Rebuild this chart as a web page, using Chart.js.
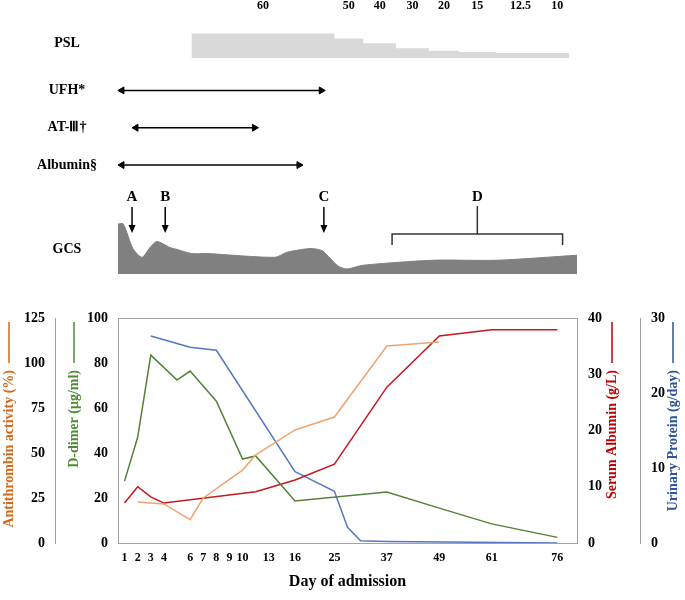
<!DOCTYPE html>
<html>
<head>
<meta charset="utf-8">
<script src="https://cdn.jsdelivr.net/npm/chart.js@4.4.1/dist/chart.umd.min.js"></script>
<style>
  body { margin: 0; background: #fff; }
  #wrap { position: relative; width: 685px; height: 600px; }
  #top, #bottom { position: absolute; left: 0; }
  #top { top: 0; }
  #bottom { top: 290px; }
</style>
</head>
<body>
<div id="wrap">
  <canvas id="top" width="685" height="290"></canvas>
  <canvas id="bottom" width="685" height="310"></canvas>
</div>
<script>
// both panels share the same x: slots of the day axis (category index 0..34)
const dayLabels = ['1','2','3','4','','6','7','8','9','10','','13','','16','','','25','','','','37','','','','49','','','','61','','','','','76',''];

const antithrombin = [null, 22.8, null, 21.7, null, 13, 25, null, null, 40.5, 49, null, null, 62.8, null, null, 70, null, null, null, 109.4, null, null, null, 111.7, null, null, null, null, null, null, null, null, null, null];
const dDimer = [27.5, 47, 83.5, null, 72.4, 76.4, null, 63, null, 37.3, 38.7, null, null, 18.7, null, null, null, null, null, null, 22.7, null, null, null, 15.5, null, null, null, 8.5, null, null, null, null, 2.5, null];
const albumin = [7.1, 10, 8.2, 7.1, null, null, null, null, null, null, 9.1, null, null, 11.2, null, null, 14, null, null, null, 27.7, null, null, null, 36.8, null, null, null, 37.9, null, null, null, null, 37.9, null];
const urinary = [null, null, 27.6, null, null, 26.1, null, 25.7, null, null, null, null, null, 9.5, null, null, 6.9, 2.1, 0.3, null, 0.2, null, null, null, null, null, null, null, null, null, null, null, null, 0, null];

// top panel
const pslStart = [5.1, 16, 18.2, 20.7, 23.2, 25.5, 28.3, 32.1];
const pslEnd = 33.9;
const pslDose = [60, 50, 40, 30, 20, 15, 12.5, 10];

// arrow ends = centre of the arrowheads
const treatments = ['UFH*', 'AT-Ⅲ†', 'Albumin§'];
const treatStart = [-0.2, 0.87, -0.2];
const treatEnd = [15.0, 9.9, 13.3];

const gcsPos = [-0.5, -0.1, 0.64, 1.33, 1.94, 2.47, 3.47, 4.0, 5.14, 6.29, 11.47, 12.39, 14.14, 15.06, 15.67, 16.28, 16.96, 18.18, 23.52, 28.4, 34.5];
const gcsLevel = [15, 15, 9.1, 7.0, 9.35, 10.8, 9.35, 8.9, 7.9, 7.9, 7.0, 8.2, 9.1, 8.6, 6.8, 4.9, 4.2, 5.1, 6.3, 6.3, 7.5];

const markerLabels = ['A', 'B', 'C'];
const markerPos = [0.57, 3.1, 15.2];
const bracketLabel = 'D';
const bracketFrom = 20.4;
const bracketTo = 33.4;

const serif = '"Liberation Serif", "Times New Roman", serif';
const bold = size => ({ family: serif, size: size, weight: 'bold' });

const pslPoints = pslStart.map((x, i) => ({ x: x, y: pslDose[i] }));
pslPoints.push({ x: pslEnd, y: pslDose[pslDose.length - 1] });
const gcsPoints = gcsPos.map((x, i) => ({ x: x, y: gcsLevel[i] }));

const arrowSets = treatments.map((name, i) => ({
  label: name,
  data: [{ x: treatStart[i], y: i }, { x: treatEnd[i], y: i }],
  yAxisID: 'yRow',
  borderColor: '#000',
  borderWidth: 1.5,
  pointStyle: 'triangle',
  pointRadius: 4,
  pointRotation: c => c.dataIndex === 0 ? -90 : 90,
  pointBackgroundColor: '#000',
  pointBorderColor: '#000',
  pointBorderWidth: 1,
  clip: false
}));

function arrowDown(ctx, x, y1, y2) {
  ctx.beginPath();
  ctx.moveTo(x, y1);
  ctx.lineTo(x, y2 - 7);
  ctx.stroke();
  ctx.beginPath();
  ctx.moveTo(x - 3.5, y2 - 8);
  ctx.lineTo(x + 3.5, y2 - 8);
  ctx.lineTo(x, y2);
  ctx.closePath();
  ctx.fill();
}

const topLabels = {
  id: 'topLabels',
  afterDatasetsDraw(chart) {
    const { ctx, chartArea, scales } = chart;
    const x = scales.x;
    ctx.save();
    ctx.fillStyle = '#000';
    ctx.strokeStyle = '#000';
    ctx.textAlign = 'center';
    ctx.textBaseline = 'middle';

    ctx.font = 'bold 14px ' + serif;
    ctx.fillText('PSL', 67, scales.yPsl.getPixelForValue(30));
    treatments.forEach((t, i) => ctx.fillText(t, 67, scales.yRow.getPixelForValue(i)));
    ctx.fillText('GCS', 67, (scales.yGcs.getPixelForValue(15) + chartArea.bottom) / 2);

    ctx.font = 'bold 12px ' + serif;
    pslDose.forEach((d, i) => {
      const end = i < pslStart.length - 1 ? pslStart[i + 1] : pslEnd;
      ctx.fillText(String(d), x.getPixelForValue((pslStart[i] + end) / 2), 6);
    });

    ctx.font = 'bold 15px ' + serif;
    ctx.lineWidth = 1.5;
    markerLabels.forEach((m, i) => {
      const px = x.getPixelForValue(markerPos[i]);
      ctx.fillText(m, px, 197);
      arrowDown(ctx, px, 207, 233);
    });

    const bx = x.getPixelForValue((bracketFrom + bracketTo) / 2);
    const b1 = x.getPixelForValue(bracketFrom);
    const b2 = x.getPixelForValue(bracketTo);
    ctx.fillText(bracketLabel, bx, 197);
    ctx.strokeStyle = '#333';
    ctx.beginPath();
    ctx.moveTo(bx, 206);
    ctx.lineTo(bx, 234);
    ctx.moveTo(b1, 245);
    ctx.lineTo(b1, 234);
    ctx.lineTo(b2, 234);
    ctx.lineTo(b2, 245);
    ctx.stroke();
    ctx.restore();
  }
};

new Chart(document.getElementById('top'), {
  type: 'line',
  data: {
    datasets: [
      { label: 'PSL', data: pslPoints, yAxisID: 'yPsl', stepped: 'after', fill: 'origin',
        backgroundColor: '#d9d9d9', borderColor: '#d9d9d9', borderWidth: 0, pointRadius: 0 },
      { label: 'GCS', data: gcsPoints, yAxisID: 'yGcs', fill: 'start', tension: 0.25,
        backgroundColor: '#808080', borderColor: '#808080', borderWidth: 1, pointRadius: 0 }
    ].concat(arrowSets)
  },
  options: {
    responsive: false,
    animation: false,
    events: [],
    layout: { padding: { left: 118, right: 108, top: 0, bottom: 16 } },
    plugins: { legend: { display: false }, tooltip: { enabled: false } },
    scales: {
      x: { type: 'linear', display: false, min: -0.5, max: 34.5 },
      yPsl: { display: false, min: -440, max: 108 },
      yGcs: { display: false, min: 3, max: 67.5 },
      yRow: { display: false, reverse: true, min: -2.29, max: 4.92 }
    }
  },
  plugins: [topLabels]
});

// bottom panel
const frameGray = '#a3a3a3';
const axisTitles = [
  { id: 'yAt', text: 'Antithrombin activity (%)', color: '#d2691c', dx: 9 },
  { id: 'yDd', text: 'D-dimer (μg/ml)', color: '#4f8a37', dx: 19 },
  { id: 'yAlb', text: 'Serum Albumin (g/L)', color: '#c00000', dx: 35 },
  { id: 'yUp', text: 'Urinary Protein (g/day)', color: '#2f5597', dx: 33 }
];

const frameAndTitles = {
  id: 'frameAndTitles',
  afterDraw(chart) {
    const { ctx, chartArea, scales } = chart;
    ctx.save();
    ctx.strokeStyle = frameGray;
    ctx.lineWidth = 1;
    ctx.beginPath();
    ctx.moveTo(chartArea.left, chartArea.top + 0.5);
    ctx.lineTo(chartArea.right, chartArea.top + 0.5);
    ctx.stroke();

    ctx.font = 'bold 14px ' + serif;
    ctx.textAlign = 'right';
    ctx.textBaseline = 'middle';
    axisTitles.forEach(t => {
      const s = scales[t.id];
      ctx.save();
      ctx.translate(s.left + t.dx, chartArea.top);
      ctx.rotate(-Math.PI / 2);
      ctx.fillStyle = t.color;
      ctx.strokeStyle = t.color;
      ctx.lineWidth = 1.5;
      ctx.beginPath();
      ctx.moveTo(-4, 0);
      ctx.lineTo(-45, 0);
      ctx.stroke();
      ctx.fillText(t.text, -52, 0);
      ctx.restore();
    });
    ctx.restore();
  }
};

function yAxis(pos, weight, max, step, width) {
  return {
    position: pos,
    weight: weight,
    min: 0,
    max: max,
    grid: { display: false, drawTicks: false },
    border: { display: true, color: frameGray },
    ticks: { stepSize: step, padding: pos === 'left' ? 10 : 11, color: '#000', font: bold(14) },
    afterFit: s => { s.width = width; }
  };
}

new Chart(document.getElementById('bottom'), {
  type: 'line',
  data: {
    labels: dayLabels,
    datasets: [
      { label: 'Antithrombin activity', data: antithrombin, yAxisID: 'yAt', borderColor: '#eea472' },
      { label: 'D-dimer', data: dDimer, yAxisID: 'yDd', borderColor: '#548235' },
      { label: 'Serum Albumin', data: albumin, yAxisID: 'yAlb', borderColor: '#c8161d' },
      { label: 'Urinary Protein', data: urinary, yAxisID: 'yUp', borderColor: '#5577c0' }
    ]
  },
  options: {
    responsive: false,
    animation: false,
    events: [],
    spanGaps: true,
    elements: { point: { radius: 0 }, line: { borderWidth: 1.5, tension: 0 } },
    layout: { padding: { top: 28 } },
    plugins: { legend: { display: false }, tooltip: { enabled: false } },
    scales: {
      x: {
        offset: true,
        grid: { display: false, drawTicks: false },
        border: { display: true, color: frameGray },
        ticks: { autoSkip: false, maxRotation: 0, padding: 8, color: '#000', font: bold(12) },
        title: { display: true, text: 'Day of admission', color: '#000', font: bold(16), padding: { top: 0, bottom: 9 } },
        afterFit: s => { s.height = 57; }
      },
      yAt: yAxis('left', 2, 125, 25, 55),
      yDd: yAxis('left', 1, 100, 20, 63),
      yAlb: yAxis('right', 1, 40, 10, 63),
      yUp: yAxis('right', 2, 30, 10, 45)
    }
  },
  plugins: [frameAndTitles]
});
</script>
</body>
</html>
